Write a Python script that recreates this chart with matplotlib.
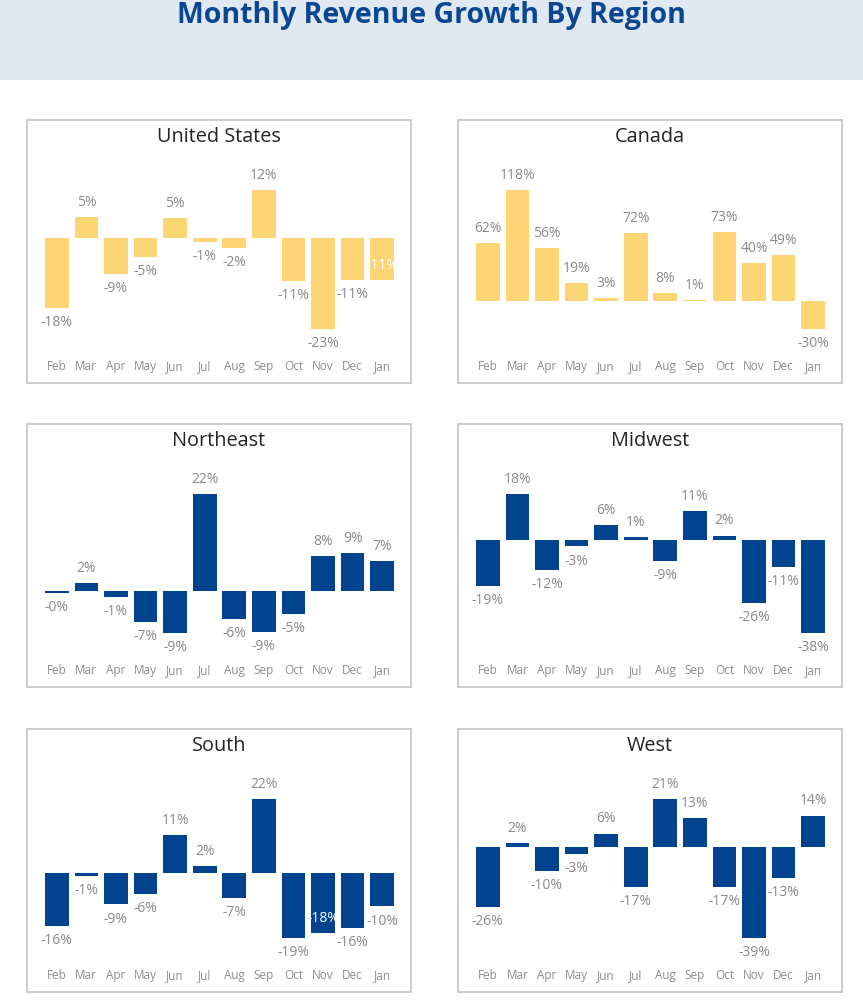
import matplotlib.pyplot as plt
from matplotlib.patches import Rectangle

plt.rcParams['font.family'] = ['Open Sans', 'DejaVu Sans']

months = ["Feb", "Mar", "Apr", "May", "Jun", "Jul", "Aug", "Sep", "Oct", "Nov", "Dec", "Jan"]

regions = ["United States", "Canada", "Northeast", "Midwest", "South", "West"]

us = [-17.6, 5.4, -9.1, -4.8, 5.1, -1.0, -2.4, 12.2, -10.9, -23.0, -10.6, -10.6]
canada = [62, 118, 56, 19, 3, 72, 8, 1, 73, 40, 49, -30]
northeast = [-0.3, 1.8, -1.2, -7.0, -9.4, 22.0, -6.2, -9.1, -5.1, 7.9, 8.6, 6.8]
midwest = [-18.6, 18.3, -12.4, -2.8, 5.8, 1.0, -8.8, 11.3, 1.6, -25.6, -10.9, -37.6]
south = [-15.8, -0.9, -9.4, -6.3, 11.3, 2.1, -7.4, 22.0, -19.4, -17.8, -16.4, -10.0]
west = [-25.8, 1.8, -10.2, -2.8, 6.0, -17.3, 21.0, 12.8, -17.3, -39.4, -13.2, 13.8]

series = [us, canada, northeast, midwest, south, west]
bar_colors = ["#fdd574", "#fdd574", "#00438f", "#00438f", "#00438f", "#00438f"]

# labels that Power BI pushed inside the bar (region index -> month index)
inside = {0: [11], 4: [9]}

W, H = 863, 1000
fig = plt.figure(figsize=(W / 100, H / 100), dpi=100)


def frac(x, y, w, h):
    # pixel box (top-left origin) -> figure fraction
    return [x / W, 1 - (y + h) / H, w / W, h / H]


# header band
hx = frac(0, 0, W, 80)
fig.patches.append(Rectangle((hx[0], hx[1]), hx[2], hx[3], transform=fig.transFigure,
                             facecolor="#e0e8f2", edgecolor="none", zorder=-2))
fig.text(0.5, 1 - 16 / H, "Monthly Revenue Growth By Region", ha="center", va="center",
         fontsize=20.5, fontweight="bold", color="#0a4692")

panel_left = [27, 458]
panel_top = [120, 424, 729]
pw, ph = 384, 263

for k, name in enumerate(regions):
    left = panel_left[k % 2]
    top = panel_top[k // 2]
    vals = series[k]

    b = frac(left, top, pw, ph)
    fig.patches.append(Rectangle((b[0], b[1]), b[2], b[3], transform=fig.transFigure,
                                 facecolor="white", edgecolor="#c8c8c8", lw=1.3, zorder=-1))
    fig.text((left + pw / 2) / W, 1 - (top + 17) / H, name, ha="center", va="center",
             fontsize=14.3, color="#252423")

    ax = fig.add_axes(frac(left + 15, top + 70, 355, 139))
    ax.set_facecolor("none")
    x = list(range(len(months)))
    ax.bar(x, vals, width=0.8, color=bar_colors[k])
    ax.set_xlim(-0.5, 11.5)
    ax.set_ylim(min(min(vals), 0), max(max(vals), 0))
    for s in ax.spines.values():
        s.set_visible(False)
    ax.set_yticks([])
    ax.set_xticks(x, months)
    ax.tick_params(axis="x", length=0, pad=22.5, labelsize=8.5, labelcolor="#8c8c8c")

    for i, v in enumerate(vals):
        txt = f"{v:.0f}%"
        up = 1 if v >= 0 else -1
        col = "#8a8a8a"
        if i in inside.get(k, []):
            up = -up
            col = "white"
        ax.annotate(txt, (i, v), xytext=(0, 10.5 * up), textcoords="offset points",
                    ha="center", va="center", fontsize=10, color=col)

fig.savefig("out.png", dpi=100)
